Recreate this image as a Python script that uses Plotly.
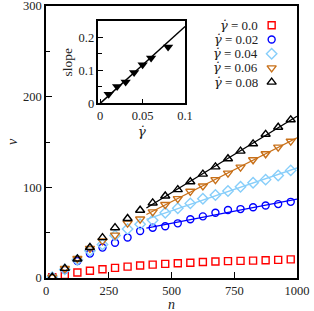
import numpy as np
import plotly.graph_objects as go

# ---------------- data ----------------
n = [25, 75, 125, 175, 225, 275, 325, 375, 425, 475,
     525, 575, 625, 675, 725, 775, 825, 875, 925, 975]
nu_000 = [1, 3.3, 6, 8, 9.6, 11.2, 12.5, 13.8, 14.7, 15.6,
          16.2, 16.9, 17.6, 18.2, 18.6, 18.9, 19.2, 19.6, 20, 20.5]
nu_002 = [1, 9, 18.7, 27, 33.7, 38.8, 44.7, 51.8, 55.5, 57.1,
          60.3, 64.8, 68, 72, 75, 76, 78, 80, 81.5, 84]
nu_004 = [1, 9.5, 20, 30, 37, 47, 54, 59.3, 63.7, 72,
          77, 82.3, 87.4, 91.5, 96, 100.7, 105, 108.5, 113, 118.7]
nu_006 = [1, 10.5, 21.5, 32.6, 41, 47.3, 60.5, 65, 72.9, 81,
          87.6, 95.6, 101.5, 108.5, 115.7, 122.3, 130.4, 137, 144.3, 150.9]
nu_008 = [1, 10.6, 21, 33.7, 44.5, 55.5, 65.6, 74.7, 82.8, 90.5,
          97.5, 106.2, 114.6, 122.6, 131.5, 139.9, 148, 158.5, 166.3, 174.5]

labels = ["0.0", "0.02", "0.04", "0.06", "0.08"]
colors = ["#ff0000", "#0000ff", "#87cefa", "#c87019", "#000000"]
symbols = ["square-open", "circle-open", "diamond-open",
           "triangle-down-open", "triangle-up-open"]
sizes = [7, 7, 8, 8, 8]
has_fit = [False, True, True, True, True]
series = [nu_000, nu_002, nu_004, nu_006, nu_008]

fit_from = 425          # points used for linear fit (n >= fit_from)
fit_range = [400, 1000]  # where the fit line is drawn

# inset
gamma_dot = [0.01, 0.02, 0.03, 0.04, 0.05, 0.06, 0.08]
slope = [0.028, 0.051, 0.065, 0.094, 0.117, 0.138, 0.171]
gamma_line = [0, 0.1]
slope_line = [0, 0.233]

FONT = "Liberation Serif"
TXT = "#222222"
GDOT = '<span style="font-family:DejaVu Serif;font-style:italic">γ̇</span>'

fig = go.Figure()

n_arr = np.array(n, dtype=float)
for vals, col, sym, sz, fit in zip(series, colors, symbols, sizes, has_fit):
    v = np.array(vals, dtype=float)
    if fit:
        m = n_arr >= fit_from
        a, b = np.polyfit(n_arr[m], v[m], 1)
        xf = np.array(fit_range, dtype=float)
        fig.add_trace(go.Scatter(x=xf, y=a * xf + b, mode="lines",
                                 line=dict(color=col, width=1.3),
                                 showlegend=False, hoverinfo="skip"))
    fig.add_trace(go.Scatter(x=n, y=vals, mode="markers",
                             marker=dict(symbol=sym, size=sz, color=col,
                                         line=dict(color=col, width=1.4)),
                             showlegend=False))

# inset
fig.add_trace(go.Scatter(x=gamma_line, y=slope_line, mode="lines",
                         line=dict(color="black", width=1.4),
                         xaxis="x2", yaxis="y2", showlegend=False))
fig.add_trace(go.Scatter(x=gamma_dot, y=slope, mode="markers",
                         marker=dict(symbol="triangle-down", size=9, color="black"),
                         xaxis="x2", yaxis="y2", showlegend=False))

# manual legend (markers to the right of the text)
leg_x = 0.899
leg_y0 = 0.929
leg_dy = 0.0522
for i, (lab, col, sym, sz) in enumerate(zip(labels, colors, symbols, sizes)):
    yy = leg_y0 - i * leg_dy
    fig.add_trace(go.Scatter(x=[leg_x], y=[yy], mode="markers",
                             marker=dict(symbol=sym, size=sz, color=col,
                                         line=dict(color=col, width=1.4)),
                             xaxis="x3", yaxis="y3", showlegend=False,
                             hoverinfo="skip"))
    fig.add_annotation(x=0.85, y=yy, xref="paper", yref="paper",
                       xanchor="right", yanchor="middle", showarrow=False,
                       text=GDOT + " = " + lab, height=13, borderpad=0,
                       font=dict(family=FONT, size=13, color=TXT))

# main axis titles (as annotations, for precise placement)
fig.add_annotation(x=-0.135, y=0.5, xref="paper", yref="paper",
                   xanchor="center", yanchor="middle", showarrow=False,
                   textangle=-90, text="<i>ν</i>",
                   font=dict(family=FONT, size=14, color=TXT))
fig.add_annotation(x=0.5, y=-0.097, xref="paper", yref="paper",
                   xanchor="center", yanchor="middle", showarrow=False,
                   text="<i>n</i>", height=11, borderpad=0,
                   font=dict(family=FONT, size=14, color=TXT))

axis_common = dict(showline=True, linewidth=1.5, linecolor="black", mirror=True,
                   ticks="inside", tickcolor="black", tickwidth=1.2,
                   showgrid=False, zeroline=False, automargin=False,
                   ticklabeloverflow="allow",
                   tickfont=dict(family=FONT, size=12.5, color=TXT))

fig.update_layout(
    width=314, height=311,
    margin=dict(l=46, r=17, t=6, b=33),
    paper_bgcolor="white", plot_bgcolor="white",
    showlegend=False,
    xaxis=dict(axis_common, range=[0, 1000], tickvals=[0, 250, 500, 750, 1000],
               ticklen=6),
    yaxis=dict(axis_common, range=[0, 300], dtick=100, ticklen=6,
               minor=dict(dtick=50, ticks="inside", ticklen=4, tickcolor="black")),
    xaxis2=dict(axis_common, domain=[0.209, 0.554], anchor="y2",
                range=[-0.002, 0.1], tickvals=[0, 0.05, 0.1], ticklen=5,
                title=dict(text=GDOT, standoff=2,
                           font=dict(family=FONT, size=13.5, color=TXT))),
    yaxis2=dict(axis_common, domain=[0.642, 0.945], anchor="x2",
                range=[0, 0.25], tickvals=[0, 0.1, 0.2], ticktext=["0", "0.1", "0.2"],
                ticklen=5,
                minor=dict(tickvals=[0.05, 0.15], ticks="inside", ticklen=3.5,
                           tickcolor="black"),
                title=dict(text="slope", standoff=3,
                           font=dict(family=FONT, size=13.5, color=TXT))),
    xaxis3=dict(domain=[0, 1], range=[0, 1], visible=False, anchor="y3",
                overlaying="x"),
    yaxis3=dict(domain=[0, 1], range=[0, 1], visible=False, anchor="x3",
                overlaying="y"),
)

fig.write_html("out.html",
               config={"displayModeBar": False},
               post_script="document.body.style.margin='0px';"
                           "document.body.style.overflow='hidden';")
